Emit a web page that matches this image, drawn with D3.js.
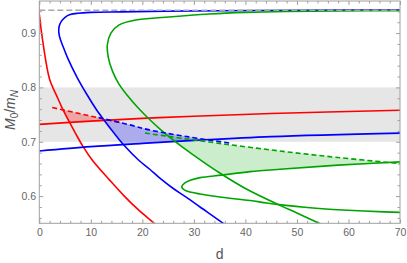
<!DOCTYPE html>
<html lang="en">
<head>
<meta charset="UTF-8">
<title>M0/mN vs d</title>
<script src="https://cdn.jsdelivr.net/npm/d3@7"></script>
<style>
  body { margin: 0; background: #fff; }
  text { font-family: "Liberation Sans", Arial, sans-serif; }
</style>
</head>
<body>
<div id="container"></div>
<script>
// ---- data: [d, M0/mN] ----
var redC = [[-0.3,0.97],[0,0.935],[0.75,0.88],[2.0,0.815],[3.4,0.784],[4.4,0.763],[5.8,0.737],[7.0,0.716],[8.5,0.691],[10.3,0.666],[13.7,0.629],[16.4,0.601],[19.2,0.575],[22.3,0.55],[23,0.544]];
var redLine = [[0,0.732],[10,0.738],[20,0.743],[30,0.747],[45,0.752],[70,0.758]];
var redDash = [[2.5,0.763],[15.8,0.735]];

var blueC = [[72,0.9425],[50,0.942],[35,0.9412],[24.5,0.9403],[16,0.939],[10,0.938],[7.5,0.9365],[6,0.934],[5,0.929],[4.3,0.922],[3.85,0.912],[3.8,0.9],[4.1,0.888],[4.7,0.873],[5.6,0.852],[7.25,0.82],[9.3,0.786],[11.1,0.759],[12.8,0.737],[14.5,0.716],[16.4,0.694],[19.3,0.666],[21.5,0.649],[23.4,0.633],[26,0.614],[28.5,0.598],[31.2,0.58],[35.7,0.55],[36.5,0.545]];
var blueLine = [[0,0.683],[10,0.691],[20,0.697],[30,0.7025],[45,0.7095],[70,0.716]];
var blueDash = [[11.5,0.7445],[17.4,0.7315],[21.5,0.7215],[29,0.709],[37,0.6975]];

var greenC = [[72,0.9412],[58,0.9407],[48,0.9398],[40,0.938],[33,0.935],[24.5,0.929],[18.7,0.924],[15.5,0.915],[13.9,0.9],[13.2,0.878],[13.4,0.855],[14.2,0.83],[15.4,0.807],[17.1,0.785],[19.2,0.762],[21.4,0.741],[23.7,0.721],[26,0.703],[30,0.675],[35.1,0.642],[40,0.614],[46.7,0.583],[50,0.569],[54.3,0.55],[55.5,0.545]];
var greenLoop = [[72,0.664],[58,0.657],[46.7,0.6495],[40.9,0.645],[35.4,0.6387],[31.2,0.634],[29.3,0.629],[28.2,0.624],[27.65,0.617],[28.2,0.611],[29.5,0.607],[31.2,0.604],[35.4,0.598],[40.9,0.592],[44.1,0.5875],[47.4,0.5835],[52,0.579],[57,0.5755],[63,0.5725],[72,0.5695]];
var greenLoopNose = 8; // index of the nose in greenLoop
var greenDash = [[20.5,0.716],[25.4,0.7095],[35,0.697],[46.7,0.683],[58,0.671],[70,0.66]];

var band = [0.7, 0.8];
var topLine = 0.942;

var xTicks = [0, 10, 20, 30, 40, 50, 60, 70];
var xTickLabels = ["0", "10", "20", "30", "40", "50", "60", "70"];
var yTicks = [0.6, 0.7, 0.8, 0.9];
var yTickLabels = ["0.6", "0.7", "0.8", "0.9"];

// ---- layout ----
var width = 407, height = 263;
var pL = 39.3, pR = 400, pT = 1, pB = 223.3;

var svg = d3.select("#container").append("svg")
    .attr("width", width)
    .attr("height", height);

var x = d3.scaleLinear().domain([0, 70]).range([pL, pR]);
var y = d3.scaleLinear().domain([0.55, 0.959]).range([pB, pT]);

var colors = { red: "#ff0000", blue: "#0000ff", green: "#00a400" };

// clip to plot area
var defs = svg.append("defs");
defs.append("clipPath").attr("id", "plot")
    .append("rect")
    .attr("x", pL).attr("y", pT)
    .attr("width", pR - pL).attr("height", pB - pT);

var line = d3.line()
    .x(d => x(d[0]))
    .y(d => y(d[1]))
    .curve(d3.curveCatmullRom.alpha(0.5));

// interior of a C-shaped curve (the side its opening faces)
function interior(id, pts) {
    var p = line(pts) +
        "L" + x(80) + "," + y(0.5) +
        "L" + x(80) + "," + y(pts[0][1]) + "Z";
    defs.append("clipPath").attr("id", id).append("path").attr("d", p);
}
interior("inRed", redC);
interior("inBlue", blueC);
interior("inGreen", greenC);

// piecewise linear lookup along increasing d
function lookup(pts, d, fallback) {
    if (d < pts[0][0] || d > pts[pts.length - 1][0]) return fallback;
    for (var i = 1; i < pts.length; i++) {
        if (d <= pts[i][0]) {
            var t = (d - pts[i - 1][0]) / (pts[i][0] - pts[i - 1][0]);
            return pts[i - 1][1] + t * (pts[i][1] - pts[i - 1][1]);
        }
    }
    return fallback;
}

var plot = svg.append("g").attr("clip-path", "url(#plot)");

// grey band
plot.append("rect")
    .attr("x", pL).attr("width", pR - pL)
    .attr("y", y(band[1])).attr("height", y(band[0]) - y(band[1]))
    .attr("fill", "#e6e6e6");

// shaded regions between dashed line and lower solid line, inside the C curve
function shade(dash, lower, clipId, color, opacity) {
    var d0 = dash[0][0], d1 = dash[dash.length - 1][0];
    var ds = d3.range(d0, d1 + 0.001, 0.2);
    var area = d3.area()
        .x(d => x(d))
        .y0(d => y(lookup(lower, d, 0.55)))
        .y1(d => {
            var lo = lookup(lower, d, 0.55), hi = lookup(dash, d, lo);
            return y(Math.max(lo, hi));
        });
    plot.append("g").attr("clip-path", "url(#" + clipId + ")")
        .append("path")
        .attr("d", area(ds))
        .attr("fill", color)
        .attr("fill-opacity", opacity);
}
var greenUpper = greenLoop.slice(0, greenLoopNose + 1).reverse();
shade(redDash, redLine, "inRed", colors.red, 0.28);
shade(blueDash, blueLine, "inBlue", colors.blue, 0.25);
shade(greenDash, greenUpper, "inGreen", colors.green, 0.2);

// solid curves
var solids = [
    [redC, colors.red], [redLine, colors.red],
    [blueC, colors.blue], [blueLine, colors.blue],
    [greenC, colors.green], [greenLoop, colors.green]
];
solids.forEach(function (s) {
    plot.append("path")
        .attr("d", line(s[0]))
        .attr("fill", "none")
        .attr("stroke", s[1])
        .attr("stroke-width", 1.6);
});

// dashed lines
[[redDash, colors.red], [blueDash, colors.blue], [greenDash, colors.green]].forEach(function (s) {
    plot.append("path")
        .attr("d", line(s[0]))
        .attr("fill", "none")
        .attr("stroke", s[1])
        .attr("stroke-width", 1.6)
        .attr("stroke-dasharray", "5,3");
});

// grey dashed line at the top
plot.append("line")
    .attr("x1", pL).attr("x2", pR)
    .attr("y1", y(topLine)).attr("y2", y(topLine))
    .attr("stroke", "#a8a8a8")
    .attr("stroke-width", 1.3)
    .attr("stroke-dasharray", "6,3");

// ---- frame and ticks ----
var frameColor = "#a0a0a0";
var xMinor = d3.range(0, 70.01, 2).filter(v => xTicks.indexOf(v) < 0);
var yMinor = d3.range(0.56, 0.96, 0.02).filter(v => yTicks.every(t => Math.abs(t - v) > 1e-6));

function styleAxis(g) {
    g.select(".domain").remove();
    g.selectAll("line").attr("stroke", frameColor);
    g.selectAll("text")
        .attr("fill", "#666")
        .style("font-size", "10.5px")
        .style("font-family", "'Liberation Sans', Arial, sans-serif");
}

svg.append("g").attr("transform", "translate(0," + pB + ")")
    .call(d3.axisBottom(x).tickValues(xTicks).tickSize(-4).tickPadding(5.5)
        .tickFormat((d, i) => xTickLabels[i]))
    .call(styleAxis);
svg.append("g").attr("transform", "translate(0," + pB + ")")
    .call(d3.axisBottom(x).tickValues(xMinor).tickSize(-2.5).tickFormat(""))
    .call(styleAxis);
svg.append("g").attr("transform", "translate(0," + pT + ")")
    .call(d3.axisTop(x).tickValues(xTicks).tickSize(-4).tickFormat(""))
    .call(styleAxis);
svg.append("g").attr("transform", "translate(0," + pT + ")")
    .call(d3.axisTop(x).tickValues(xMinor).tickSize(-2.5).tickFormat(""))
    .call(styleAxis);

svg.append("g").attr("transform", "translate(" + pL + ",0)")
    .call(d3.axisLeft(y).tickValues(yTicks).tickSize(-4).tickPadding(3.3)
        .tickFormat((d, i) => yTickLabels[i]))
    .call(styleAxis);
svg.append("g").attr("transform", "translate(" + pL + ",0)")
    .call(d3.axisLeft(y).tickValues(yMinor).tickSize(-2.5).tickFormat(""))
    .call(styleAxis);
svg.append("g").attr("transform", "translate(" + pR + ",0)")
    .call(d3.axisRight(y).tickValues(yTicks).tickSize(-4).tickFormat(""))
    .call(styleAxis);
svg.append("g").attr("transform", "translate(" + pR + ",0)")
    .call(d3.axisRight(y).tickValues(yMinor).tickSize(-2.5).tickFormat(""))
    .call(styleAxis);

svg.append("rect")
    .attr("x", pL).attr("y", pT)
    .attr("width", pR - pL).attr("height", pB - pT)
    .attr("fill", "none")
    .attr("stroke", frameColor)
    .attr("stroke-width", 1);

// axis titles
svg.append("text")
    .attr("x", (pL + pR) / 2)
    .attr("y", 259)
    .attr("text-anchor", "middle")
    .attr("fill", "#555")
    .style("font-size", "14px")
    .text("d");

var yt = svg.append("text")
    .attr("transform", "translate(15," + 110 + ") rotate(-90)")
    .attr("text-anchor", "middle")
    .attr("fill", "#555")
    .style("font-size", "14px");
yt.append("tspan").style("font-style", "italic").text("M");
yt.append("tspan").attr("dy", 3).style("font-size", "10px").text("0");
yt.append("tspan").attr("dy", -3).text("/");
yt.append("tspan").style("font-style", "italic").text("m");
yt.append("tspan").attr("dy", 3).style("font-size", "10px").style("font-style", "italic").text("N");
</script>
</body>
</html>
